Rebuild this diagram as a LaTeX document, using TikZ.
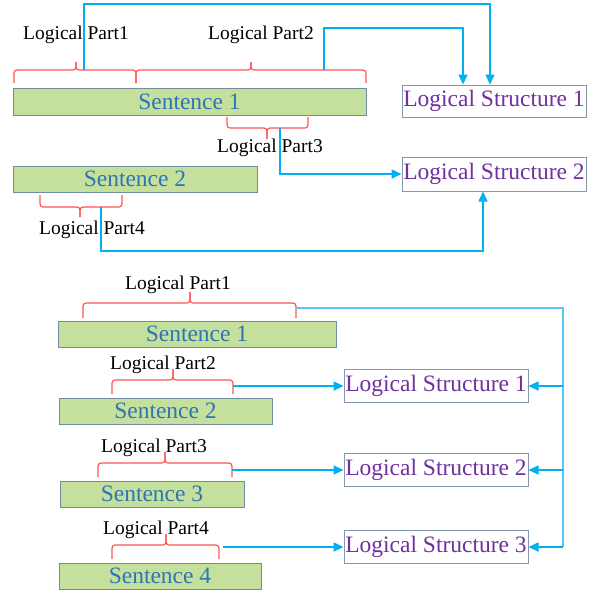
\documentclass[tikz,border=0pt]{standalone}
\usepackage{fontspec}
\setmainfont{Liberation Serif}
\usetikzlibrary{arrows.meta,calc}
\definecolor{sentfill}{RGB}{196,224,156}
\definecolor{sentdraw}{RGB}{112,140,160}
\definecolor{lsdraw}{RGB}{132,151,176}
\definecolor{conn}{RGB}{0,176,240}
\definecolor{trunkc}{RGB}{90,200,245}
\definecolor{bracec}{RGB}{255,85,85}
\definecolor{senttext}{RGB}{46,117,182}
\definecolor{lstext}{RGB}{112,48,160}
\newcommand\mybrace[6]{%
  \draw[brc] (#1,#4) -- (#1,#5) -- (#3,#5) -- (#3,#6);
  \draw[brc] (#2,#4) -- (#2,#5) -- (#3,#5) -- (#3,#6);}
\begin{document}
\begin{tikzpicture}[x=1pt,y=-1pt,
  sent/.style={draw=sentdraw,line width=1pt,fill=sentfill,inner sep=0pt,minimum height=26pt,
    text=senttext,font=\fontsize{23.5}{23.5}\selectfont},
  lsbox/.style={draw=lsdraw,line width=1pt,fill=white,inner sep=0pt,minimum width=184pt,minimum height=33pt,
    text=lstext,font=\fontsize{23.5}{23.5}\selectfont},
  lbl/.style={inner sep=0pt,font=\fontsize{19.5}{19.5}\selectfont},
  brc/.style={draw=bracec,line width=1.2pt,rounded corners=3pt},
  arr/.style={draw=conn,line width=1.6pt,-{Triangle[length=10pt,width=9pt]}},
  ln/.style={draw=conn,line width=1.6pt},
  trunk/.style={draw=trunkc,line width=1.2pt}]
\useasboundingbox (0,0) rectangle (593,590);
% ---------- top part ----------
\node[sent,minimum width=353pt,minimum height=27pt] (s1) at (189.5,101.5) {Sentence 1};
\node[sent,minimum width=244pt] (s2) at (135,179) {Sentence 2};
\node[lsbox,minimum height=32pt] (ls1) at (494,101) {Logical Structure 1};
\node[lsbox,minimum height=34pt] (ls2) at (494,174) {Logical Structure 2};
\mybrace{14}{136}{76}{83}{70}{62}
\mybrace{136}{366}{251}{83}{70}{62}
\mybrace{227}{308}{267}{117}{128}{139}
\mybrace{40}{122}{80}{195}{207}{217}
\node[lbl] (lp1) at (76,35) {Logical Part1};
\node[lbl] (lp2) at (261,35) {Logical Part2};
\node[lbl] (lp3) at (270,148) {Logical Part3};
\node[lbl] (lp4) at (92,230) {Logical Part4};
\coordinate (c1) at (84,70);
\coordinate (t1) at (490,4);
\coordinate (c2) at (324,70);
\coordinate (t2) at (463,28);
\coordinate (c3) at (280,128);
\coordinate (c4) at (101,207);
\coordinate (t4) at (483,251);
\draw[arr] (c1) |- (t1) -- (t1 |- ls1.north);
\draw[arr] (c2) |- (t2) -- (t2 |- ls1.north);
\draw[arr] (c3) |- (ls2.west);
\draw[arr] (c4) |- (t4) -- (t4 |- ls2.south);
% ---------- bottom part ----------
\node[sent,minimum width=278pt] (b1) at (197,334) {Sentence 1};
\node[sent,minimum width=213pt] (b2) at (165.5,411) {Sentence 2};
\node[sent,minimum width=184pt] (b3) at (152,494) {Sentence 3};
\node[sent,minimum width=202pt] (b4) at (160,576) {Sentence 4};
\node[lsbox] (bl1) at (436,386) {Logical Structure 1};
\node[lsbox] (bl2) at (436,470) {Logical Structure 2};
\node[lsbox] (bl3) at (436,547) {Logical Structure 3};
\mybrace{83}{296}{190}{318}{303}{292}
\mybrace{112}{233}{173}{394}{380}{369}
\mybrace{98}{232}{165}{477}{463}{452}
\mybrace{112}{219}{166}{559}{545}{534}
\node[lbl] (blp1) at (178,285) {Logical Part1};
\node[lbl] (blp2) at (163,365) {Logical Part2};
\node[lbl] (blp3) at (154,448) {Logical Part3};
\node[lbl] (blp4) at (156,530) {Logical Part4};
\coordinate (bc1) at (296,308);
\coordinate (tr) at (563,308);
\draw[trunk] (bc1) -- (tr) -- (tr |- bl3.east);
\draw[arr] (tr |- bl1.east) -- (bl1.east);
\draw[arr] (tr |- bl2.east) -- (bl2.east);
\draw[arr] (tr |- bl3.east) -- (bl3.east);
\coordinate (bc2) at (233,386);
\coordinate (bc3) at (232,470);
\coordinate (bc4) at (223,547);
\draw[arr] (bc2) -- (bl1.west);
\draw[arr] (bc3) -- (bl2.west);
\draw[arr] (bc4) -- (bl3.west);
\end{tikzpicture}
\end{document}
